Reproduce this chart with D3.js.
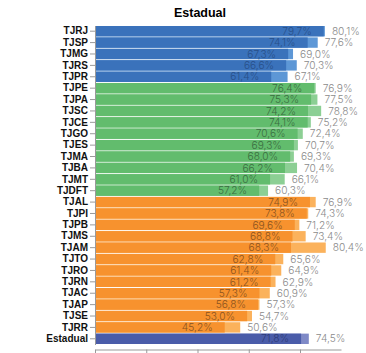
<!DOCTYPE html>
<html>
<head>
<meta charset="utf-8">
<script src="https://cdn.jsdelivr.net/npm/d3@7"></script>
<style>
body { margin: 0; background: #fff; }
.title { font-family: "Liberation Sans", Arial, sans-serif; font-weight: bold; font-size: 12.5px; }
.cat text { font-family: "Liberation Sans", Arial, sans-serif; font-weight: bold; font-size: 10px; fill: #111; }
.val { font-family: Inter, "Liberation Sans", sans-serif; font-weight: 300; font-size: 10.2px; }
.axis path, .axis line { stroke: #999; }
</style>
</head>
<body>
<script>
//tribunals in draw order
var tribunais = ["TJRJ","TJSP","TJMG","TJRS","TJPR",
    "TJPE","TJPA","TJSC","TJCE","TJGO","TJES","TJMA","TJBA","TJMT","TJDFT",
    "TJAL","TJPI","TJPB","TJMS","TJAM","TJTO","TJRO","TJRN","TJAC","TJAP","TJSE","TJRR",
    "Estadual"];
//size group of each tribunal
var porte = ["grande","grande","grande","grande","grande",
    "medio","medio","medio","medio","medio","medio","medio","medio","medio","medio",
    "pequeno","pequeno","pequeno","pequeno","pequeno","pequeno","pequeno","pequeno","pequeno","pequeno","pequeno","pequeno",
    "total"];
//first (dark) value and second (light) value, in %
var valor1 = [79.7,74.1,67.3,66.6,61.4,
    76.4,75.3,74.2,74.1,70.6,69.3,68.0,66.2,61.0,57.2,
    74.9,73.8,69.6,68.8,68.3,62.8,61.4,61.2,57.3,56.8,53.0,45.2,
    71.8];
var valor2 = [80.1,77.6,69.0,70.3,67.1,
    76.9,77.5,78.8,75.2,72.4,70.7,69.3,70.4,66.1,60.3,
    76.9,74.3,71.2,73.4,80.4,65.6,64.9,62.9,60.9,57.3,54.7,50.6,
    74.5];
var xTicks = [0, 20, 40, 60, 80];

var corEscura = { grande: "#3a72bb", medio: "#62bc6d", pequeno: "#f7922e", total: "#4a5ca9" };
var corClara  = { grande: "#5d97d6", medio: "#8ccf94", pequeno: "#fbb25c", total: "#7f8ac7" };
var corTexto  = { grande: "#284f88", medio: "#3a6c40", pequeno: "#8a5220", total: "#2c3a78" };

var width = 366, height = 353,
    left = 95;

var rows = tribunais.map(function(t, i){
    return { nome: t, porte: porte[i], v1: valor1[i], v2: valor2[i] };
});

var svg = d3.select("body").append("svg")
    .attr("width", width)
    .attr("height", height);

svg.append("text")
    .attr("class", "title")
    .attr("x", 200)
    .attr("y", 17)
    .attr("text-anchor", "middle")
    .text("Estadual");

var x = d3.scaleLinear().domain([0, 100]).range([left, left + 287]);
var y = d3.scaleBand().domain(tribunais).range([25.5, 344.5]).paddingInner(0.09).paddingOuter(0.045);

//light bars behind
svg.selectAll(".bar2")
    .data(rows)
    .enter()
    .append("rect")
    .attr("class", "bar2")
    .attr("x", x(0))
    .attr("y", function(d){ return y(d.nome); })
    .attr("width", function(d){ return x(d.v2) - x(0); })
    .attr("height", y.bandwidth())
    .style("fill", function(d){ return corClara[d.porte]; });

svg.selectAll(".bar1")
    .data(rows)
    .enter()
    .append("rect")
    .attr("class", "bar1")
    .attr("x", x(0))
    .attr("y", function(d){ return y(d.nome); })
    .attr("width", function(d){ return x(d.v1) - x(0); })
    .attr("height", y.bandwidth())
    .style("fill", function(d){ return corEscura[d.porte]; });

function fmt(v){ return v.toFixed(1).replace(".", ",") + "%"; }

svg.selectAll(".lab1")
    .data(rows)
    .enter()
    .append("text")
    .attr("class", "val")
    .attr("x", function(d){ return x(d.v1) - 12; })
    .attr("y", function(d){ return y(d.nome) + y.bandwidth() / 2; })
    .attr("dy", "0.36em")
    .attr("text-anchor", "end")
    .style("fill", function(d){ return corTexto[d.porte]; })
    .text(function(d){ return fmt(d.v1); });

svg.selectAll(".lab2")
    .data(rows)
    .enter()
    .append("text")
    .attr("class", "val")
    .attr("x", function(d){ return x(d.v2) + 7; })
    .attr("y", function(d){ return y(d.nome) + y.bandwidth() / 2; })
    .attr("dy", "0.36em")
    .style("fill", "#8a8a8a")
    .text(function(d){ return fmt(d.v2); });

//category axis
svg.append("g")
    .attr("class", "axis cat")
    .attr("transform", "translate(" + left + ",0)")
    .call(d3.axisLeft(y).tickSize(5).tickPadding(2).tickSizeOuter(0));

//bottom axis, its labels sit below the visible frame so only ticks show
var xAxisScale = d3.scaleLinear().domain([0, 96]).range([left, 341]);
svg.append("g")
    .attr("class", "axis")
    .attr("transform", "translate(0,349.5)")
    .call(d3.axisBottom(xAxisScale).tickValues(xTicks).tickFormat("").tickSizeOuter(0));
</script>
</body>
</html>
